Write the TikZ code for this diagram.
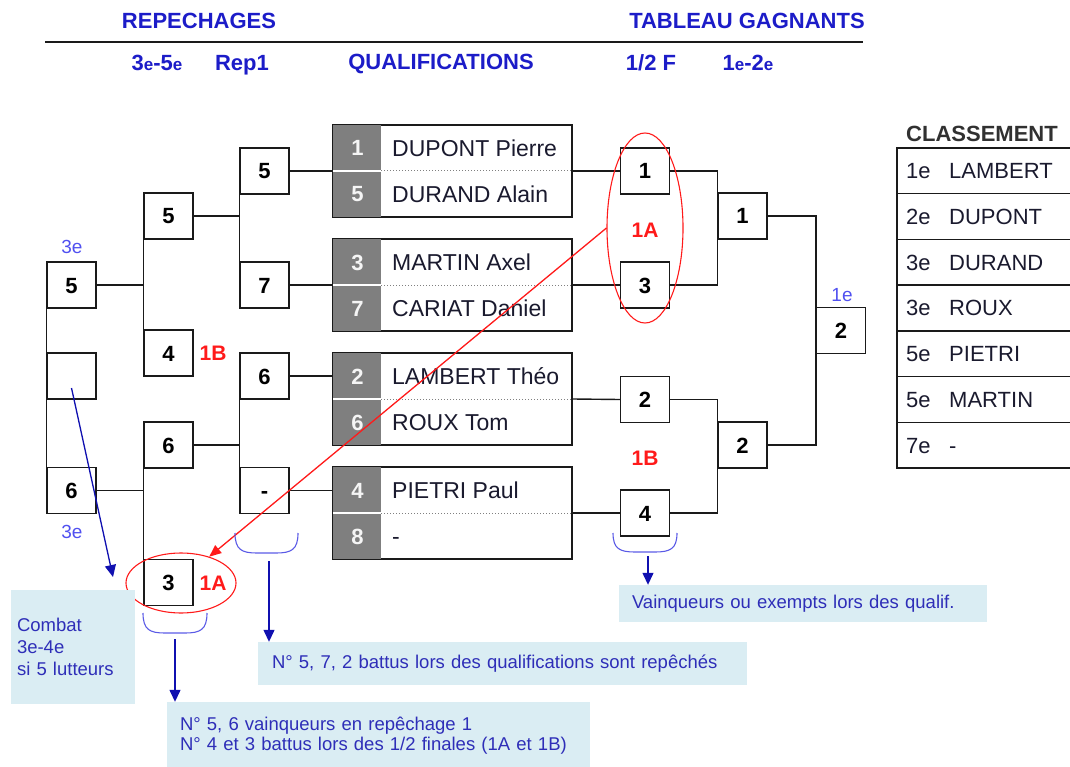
\documentclass[tikz,border=0pt]{standalone}
\usepackage{fontspec}
\setmainfont{Liberation Sans}
\usepackage{xcolor}
\definecolor{hdrblue}{HTML}{1C1CC8}
\definecolor{ordblue}{HTML}{5050F0}
\definecolor{noteblue}{HTML}{2E2EB8}
\definecolor{notebg}{HTML}{DAEDF3}
\definecolor{numgray}{HTML}{7F7F7F}
\definecolor{linedark}{HTML}{1A1A1A}
\definecolor{textdark}{HTML}{1A1A2E}
\definecolor{braceblue}{HTML}{5A5AE6}
\definecolor{arrowblue}{HTML}{1010B0}
\definecolor{markred}{HTML}{FF1A1A}
\usetikzlibrary{shapes.geometric, arrows.meta, positioning, calc}
\newcommand{\ordsub}[1]{{\fontsize{17}{17}\selectfont #1}}

\begin{document}
\begin{tikzpicture}[
        x=1pt, y=-1pt,
        seat/.style={
            rectangle,
            draw=linedark,
            line width=1.4pt,
            fill=white,
            minimum width=49pt,
            minimum height=46pt,
            inner sep=0pt,
            text height=16pt,
            text depth=0pt,
            font=\fontsize{22}{24}\selectfont\bfseries
        },
        qualbox/.style={
            rectangle,
            draw=linedark,
            line width=1.4pt,
            fill=white,
            minimum width=239pt,
            minimum height=92pt,
            inner sep=0pt
        },
        qnum/.style={
            inner sep=0pt,
            text height=16pt,
            text depth=0pt,
            text=white!92!gray,
            font=\fontsize{22}{24}\selectfont\bfseries
        },
        qname/.style={
            anchor=west,
            inner sep=0pt,
            text height=16.5pt,
            text depth=0pt,
            text=textdark,
            font=\fontsize{23}{25}\selectfont
        },
        link/.style={
            draw=linedark,
            line width=1.4pt
        },
        hdr/.style={
            anchor=base,
            inner sep=0pt,
            text=hdrblue,
            font=\fontsize{22}{24}\selectfont\bfseries
        },
        ordlbl/.style={
            inner sep=0pt,
            text=ordblue,
            font=\fontsize{19}{20}\selectfont
        },
        redtag/.style={
            inner sep=0pt,
            text=markred,
            font=\fontsize{21}{22}\selectfont\bfseries
        },
        redring/.style={
            ellipse,
            draw=markred,
            line width=1.1pt,
            inner sep=0pt
        },
        redarrow/.style={
            -{Triangle[length=12pt, width=10pt]},
            draw=markred,
            fill=markred,
            line width=1.3pt
        },
        note/.style={
            rectangle,
            fill=notebg,
            inner sep=0pt,
            align=left,
            text=noteblue,
            font=\fontsize{18.5}{22}\selectfont
        },
        notearrow/.style={
            -{Triangle[length=12pt, width=11pt]},
            draw=arrowblue,
            fill=arrowblue,
            line width=1.3pt
        },
        brace/.style={
            draw=braceblue,
            line width=1.1pt
        },
        rank/.style={
            anchor=west,
            inner sep=0pt,
            text height=16pt,
            text depth=0pt,
            text=textdark,
            font=\fontsize{22}{24}\selectfont
        }
    ]
    \useasboundingbox (0,0) rectangle (1070,767);

    % Headers
    \node[hdr] (hRep) at (199,29) {REPECHAGES};
    \node[hdr] (hTab) at (747,29) {TABLEAU GAGNANTS};
    \draw[linedark, line width=1.6pt] (45,42) -- (863,42);
    \node[hdr] (hTroisCinq) at (157,71) {3\ordsub{e}-5\ordsub{e}};
    \node[hdr] (hRepUn) at (242,71) {Rep1};
    \node[hdr] (hQual) at (441,70) {QUALIFICATIONS};
    \node[hdr] (hDemi) at (651,71) {1/2 F};
    \node[hdr] (hFinale) at (748,71) {1\ordsub{e}-2\ordsub{e}};

    % Qualifications
    \foreach \i/\y/\numA/\nameA/\numB/\nameB in {1/171/1/DUPONT Pierre/5/DURAND Alain,
            2/285/3/MARTIN Axel/7/CARIAT Daniel,
            3/399/2/LAMBERT Théo/6/ROUX Tom,
            4/513/4/PIETRI Paul/8/-}{
        \node[qualbox] (q\i) at (452.5,\y) {};
        \fill[numgray] (q\i.north west) rectangle ([xshift=49pt]q\i.south west);
        \draw[white, line width=1.2pt] (q\i.west) -- ([xshift=49pt]q\i.west);
        \draw[gray, dotted, line width=1pt] ([xshift=49pt]q\i.west) -- (q\i.east);
        \draw[link] (q\i.north west) rectangle (q\i.south east);
        \node[qnum] (qa\i) at (357.5,{\y-23}) {\numA};
        \node[qnum] (qb\i) at (357.5,{\y+23}) {\numB};
        \node[qname] (na\i) at (392,{\y-23}) {\nameA};
        \node[qname] (nb\i) at (392,{\y+23}) {\nameB};
    }

    % Repechages
    \node[seat] (a5) at (71.5,285) {5};
    \node[seat] (a0) at (71.5,376) {};
    \node[seat] (a6) at (71.5,490.5) {6};
    \node[seat] (b5) at (168.5,216) {5};
    \node[seat] (b4) at (168.5,353) {4};
    \node[seat] (b6) at (168.5,445) {6};
    \node[seat] (b3) at (168.5,582.5) {3};
    \node[seat] (c5) at (264.5,171) {5};
    \node[seat] (c7) at (264.5,285) {7};
    \node[seat] (c6) at (264.5,376) {6};
    \node[seat] (c0) at (264.5,490.5) {-};

    % Tableau gagnants
    \node[seat] (d1) at (645,171) {1};
    \node[seat] (d3) at (645,285) {3};
    \node[seat] (d2) at (645,399.5) {2};
    \node[seat] (d4) at (645,513) {4};
    \node[seat] (e1) at (742.5,216) {1};
    \node[seat] (e2) at (742.5,445) {2};
    \node[seat] (f2) at (841,330.5) {2};

    % Links
    \draw[link] (a5.south west) -- (a6.north west);
    \draw[link] (a5.east) -- (a5.east -| b5.west);
    \draw[link] (a6.east) -- (a6.east -| b6.west);
    \draw[link] (b5.south west) -- (b4.north west);
    \draw[link] (b6.south west) -- (b3.north west);
    \draw[link] (b5.east) -- (b5.east -| c5.west);
    \draw[link] (b6.east) -- (b6.east -| c6.west);
    \draw[link] (c5.south west) -- (c7.north west);
    \draw[link] (c6.south west) -- (c0.north west);
    \draw[link] (c5.east) -- (c5.east -| q1.west);
    \draw[link] (c7.east) -- (c7.east -| q2.west);
    \draw[link] (c6.east) -- (c6.east -| q3.west);
    \draw[link] (c0.east) -- (c0.east -| q4.west);
    \draw[link] (q1.east) -- (d1.west);
    \draw[link] (q2.east) -- (d3.west);
    \draw[link] (q3.east) -- (d2.west);
    \draw[link] (q4.east) -- (d4.west);
    \draw[link] (d1.east) -- (d1.east -| e1.west) -- (d3.east -| e1.west) -- (d3.east);
    \draw[link] (d2.east) -- (d2.east -| e2.west) -- (d4.east -| e2.west) -- (d4.east);
    \draw[link] (e1.east) -- (e1.east -| f2.west) -- (e2.east -| f2.west) -- (e2.east);

    % Places
    \node[ordlbl] (oTroisHaut) at (72,247) {3e};
    \node[ordlbl] (oTroisBas) at (72,532) {3e};
    \node[ordlbl] (oPremier) at (842,295) {1e};

    % Demi-finales
    \node[redring, minimum width=76pt, minimum height=190pt] (semiA) at (645,228) {};
    \node[redring, minimum width=110pt, minimum height=60pt] (repA) at (181,583) {};
    \node[redtag] (mA) at (645,230) {1A};
    \node[redtag] (mB) at (645,458) {1B};
    \node[redtag] (tB) at (213,353) {1B};
    \node[redtag] (tA) at (213,583) {1A};
    \draw[redarrow] (semiA.west) -- (repA.43);

    % Classement
    \node[anchor=base, inner sep=0pt, text=linedark!90!white, font=\fontsize{22}{24}\selectfont\bfseries] (cls) at (982,142) {CLASSEMENT};
    \foreach \k/\rk/\nm in {1/1e/LAMBERT, 2/2e/DUPONT, 3/3e/DURAND, 4/3e/ROUX, 5/5e/PIETRI, 6/5e/MARTIN, 7/7e/-}{
        \draw[link] (897,{148+(\k-1)*45.71}) rectangle (1080,{148+\k*45.71});
        \node[rank] (rk\k) at (906,{148+(\k-0.5)*45.71}) {\rk};
        \node[rank] (nm\k) at (949,{148+(\k-0.5)*45.71}) {\nm};
    }

    % Notes
    \node[note, minimum width=124pt, minimum height=114pt, text width=112pt] (nCombat) at (73,647) {Combat\\3e-4e\\si 5 lutteurs};
    \node[note, minimum width=489pt, minimum height=43pt, text width=461pt] (nRep) at (502.5,663.5) {N° 5, 7, 2 battus lors des qualifications sont repêchés};
    \node[note, minimum width=423pt, minimum height=67pt, text width=397pt,
        font=\fontsize{18.5}{20}\selectfont] (nVain) at (378.5,735.5) {N° 5, 6 vainqueurs en repêchage 1\\N° 4 et 3 battus lors des 1/2 finales (1A et 1B)};
    \node[note, minimum width=368pt, minimum height=37pt, text width=342pt] (nQual) at (803,603.5) {Vainqueurs ou exempts lors des qualif.};

    % Braces and arrows
    \draw[brace] (143,613) .. controls (143,630) and (150,633) .. (165,633) -- (185,633) .. controls (200,633) and (207,630) .. (207,613);
    \draw[brace] (235,533) .. controls (235,550) and (242,553) .. (257,553) -- (276,553) .. controls (291,553) and (298,550) .. (298,533);
    \draw[brace] (613,533) .. controls (613,549) and (620,552) .. (635,552) -- (655,552) .. controls (670,552) and (677,549) .. (677,533);
    \coordinate (brRep) at (175,639);
    \coordinate (brQual) at (269,561);
    \coordinate (brDemi) at (648,556);
    \coordinate (cTip) at (113,577);
    \draw[notearrow] (brRep) -- (brRep |- nVain.north);
    \draw[notearrow] (brQual) -- (brQual |- nRep.north);
    \draw[notearrow] (brDemi) -- (brDemi |- nQual.north);
    \draw[notearrow] ([yshift=-12pt]a0.center) -- (cTip);

\end{tikzpicture}
\end{document}
